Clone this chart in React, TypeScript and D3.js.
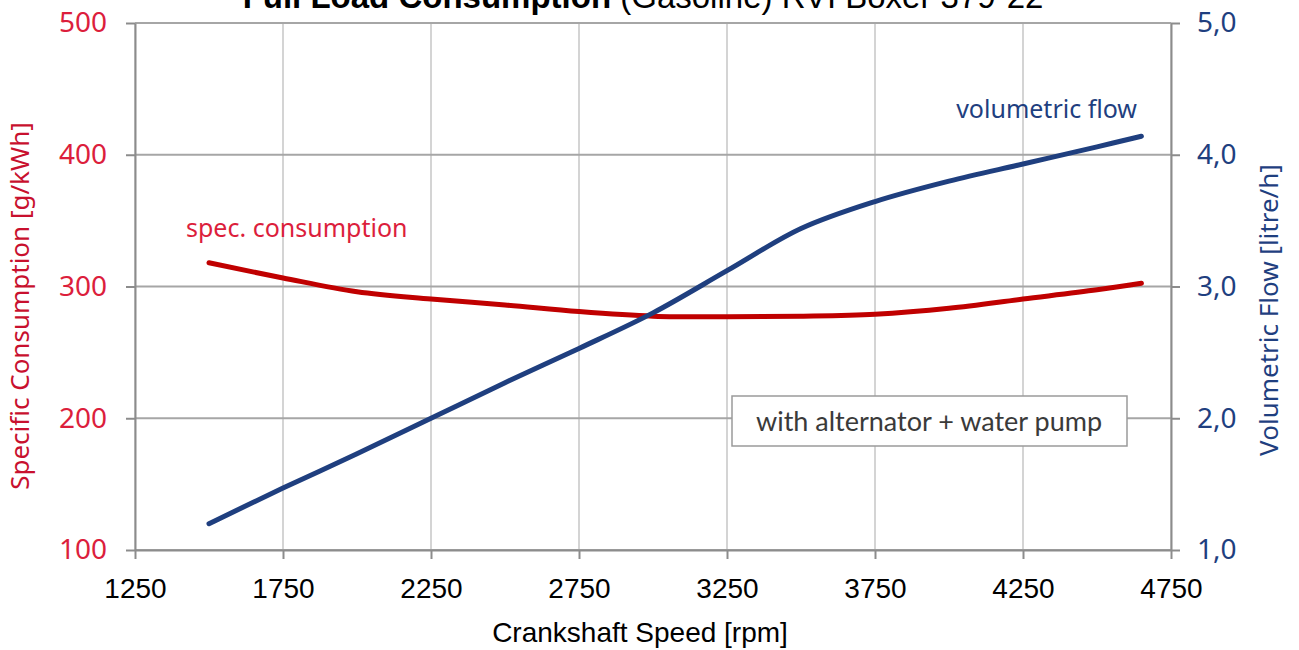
import React, { useEffect, useRef } from 'react';
import * as d3 from 'd3';

// crankshaft speed [rpm]
const rpm = [1500, 1750, 2000, 2250, 2500, 2750, 3000, 3250, 3500, 3750, 4000, 4250, 4500, 4650];
// specific consumption [g/kWh]
const specConsumption = [318, 306.5, 296, 290.5, 286, 281, 277.5, 277, 277.5, 279, 283.5, 290.5, 297.5, 302.5];
// volumetric flow [litre/h]
const volFlow = [1.2, 1.47, 1.73, 2.0, 2.27, 2.53, 2.8, 3.12, 3.44, 3.645, 3.8, 3.93, 4.06, 4.14];

const xTicks = [1250, 1750, 2250, 2750, 3250, 3750, 4250, 4750];
const leftTicks = [100, 200, 300, 400, 500];
const rightTicks = [1, 2, 3, 4, 5];

const RED = '#c00000';
const RED_TEXT = '#dc1e3c';
const RED_TITLE = '#c8102e';
const BLUE = '#1f3f7f';

const App = () => {
  const ref = useRef<SVGSVGElement | null>(null);

  useEffect(() => {
    const W = 1299, H = 650;
    const left = 135, right = 1171, top = 23, bottom = 550;

    const svg = d3.select(ref.current);
    svg.selectAll('*').remove();

    const x = d3.scaleLinear().domain([1250, 4750]).range([left, right]);
    const yL = d3.scaleLinear().domain([100, 500]).range([bottom, top]);
    const yR = d3.scaleLinear().domain([1, 5]).range([bottom, top]);

    const comma = d3.formatLocale({ decimal: ',', thousands: '.', grouping: [3], currency: ['', '€'] }).format('.1f');

    svg.append('rect').attr('width', W).attr('height', H).attr('fill', '#fff');

    // vertical grid
    svg.append('g')
      .selectAll('line')
      .data(xTicks)
      .enter().append('line')
      .attr('x1', d => x(d)).attr('x2', d => x(d))
      .attr('y1', top).attr('y2', bottom)
      .attr('stroke', '#d4d4d4').attr('stroke-width', 2);

    // horizontal grid
    svg.append('g')
      .selectAll('line')
      .data(leftTicks)
      .enter().append('line')
      .attr('x1', left).attr('x2', right)
      .attr('y1', d => yL(d)).attr('y2', d => yL(d))
      .attr('stroke', '#a6a6a6').attr('stroke-width', 2);

    const styleAxis = (g, color, family) => {
      g.select('.domain').attr('stroke', '#8c8c8c').attr('stroke-width', 2);
      g.selectAll('.tick line').attr('stroke', '#8c8c8c').attr('stroke-width', 2);
      g.selectAll('.tick text')
        .attr('fill', color)
        .attr('font-family', family)
        .attr('font-size', 28);
    };

    svg.append('g')
      .attr('transform', `translate(${left},0)`)
      .call(d3.axisLeft(yL).tickValues(leftTicks).tickSize(9).tickSizeOuter(0).tickPadding(19))
      .call(g => styleAxis(g, RED_TEXT, '"Noto Sans", sans-serif'));

    svg.append('g')
      .attr('transform', `translate(${right},0)`)
      .call(d3.axisRight(yR).tickValues(rightTicks).tickSize(9).tickSizeOuter(0).tickPadding(17).tickFormat(d => comma(d)))
      .call(g => styleAxis(g, BLUE, '"Noto Sans", sans-serif'));

    svg.append('g')
      .attr('transform', `translate(0,${bottom})`)
      .call(d3.axisBottom(x).tickValues(xTicks).tickSize(9).tickSizeOuter(0).tickPadding(19).tickFormat(d3.format('d')))
      .call(g => styleAxis(g, '#000', '"Liberation Sans", Arial, sans-serif'));

    // curves (smoothed like the spreadsheet original)
    const lineL = d3.line<number>()
      .x((d, i) => x(rpm[i]))
      .y(d => yL(d))
      .curve(d3.curveCatmullRom.alpha(0.5));
    const lineR = d3.line<number>()
      .x((d, i) => x(rpm[i]))
      .y(d => yR(d))
      .curve(d3.curveCatmullRom.alpha(0.5));

    svg.append('path')
      .attr('d', lineL(specConsumption))
      .attr('fill', 'none').attr('stroke', RED).attr('stroke-width', 5)
      .attr('stroke-linecap', 'round').attr('stroke-linejoin', 'round');

    svg.append('path')
      .attr('d', lineR(volFlow))
      .attr('fill', 'none').attr('stroke', BLUE).attr('stroke-width', 5)
      .attr('stroke-linecap', 'round').attr('stroke-linejoin', 'round');

    // series labels
    svg.append('text')
      .attr('x', 186).attr('y', 237)
      .attr('fill', RED_TEXT)
      .attr('font-family', '"Noto Sans", sans-serif').attr('font-size', 25)
      .text('spec. consumption');

    svg.append('text')
      .attr('x', 1137).attr('y', 118)
      .attr('text-anchor', 'end')
      .attr('fill', BLUE)
      .attr('font-family', '"Noto Sans", sans-serif').attr('font-size', 25)
      .text('volumetric flow');

    // note box
    svg.append('rect')
      .attr('x', 732).attr('y', 396).attr('width', 395).attr('height', 50)
      .attr('fill', '#fff').attr('stroke', '#9a9a9a').attr('stroke-width', 1.5);
    svg.append('text')
      .attr('x', 929).attr('y', 431)
      .attr('text-anchor', 'middle')
      .attr('fill', '#3a3a3a')
      .attr('font-family', 'Lato, sans-serif').attr('font-size', 27)
      .text('with alternator + water pump');

    // axis titles
    svg.append('text')
      .attr('transform', `translate(29,306) rotate(-90)`)
      .attr('text-anchor', 'middle')
      .attr('fill', RED_TITLE)
      .attr('font-family', '"Noto Sans", sans-serif').attr('font-size', 26)
      .text('Specific Consumption [g/kWh]');

    svg.append('text')
      .attr('transform', `translate(1278,310) rotate(-90)`)
      .attr('text-anchor', 'middle')
      .attr('fill', BLUE)
      .attr('font-family', '"Noto Sans", sans-serif').attr('font-size', 26)
      .text('Volumetric Flow [litre/h]');

    svg.append('text')
      .attr('x', 640).attr('y', 642)
      .attr('text-anchor', 'middle')
      .attr('fill', '#000')
      .attr('font-family', '"Liberation Sans", Arial, sans-serif').attr('font-size', 28)
      .text('Crankshaft Speed [rpm]');

    // chart title (cut off at the top in the original)
    const title = svg.append('text')
      .attr('x', 643).attr('y', 8)
      .attr('text-anchor', 'middle')
      .attr('fill', '#000')
      .attr('font-family', '"Liberation Sans", Arial, sans-serif').attr('font-size', 33);
    title.append('tspan').attr('font-weight', 'bold').text('Full Load Consumption');
    title.append('tspan').text(' (Gasoline) RVI Boxer 379-22');
  }, []);

  return (
    <svg
      ref={ref}
      width={1299}
      height={650}
      style={{ position: 'absolute', left: 0, top: 0, display: 'block' }}
    />
  );
};

export default App;
